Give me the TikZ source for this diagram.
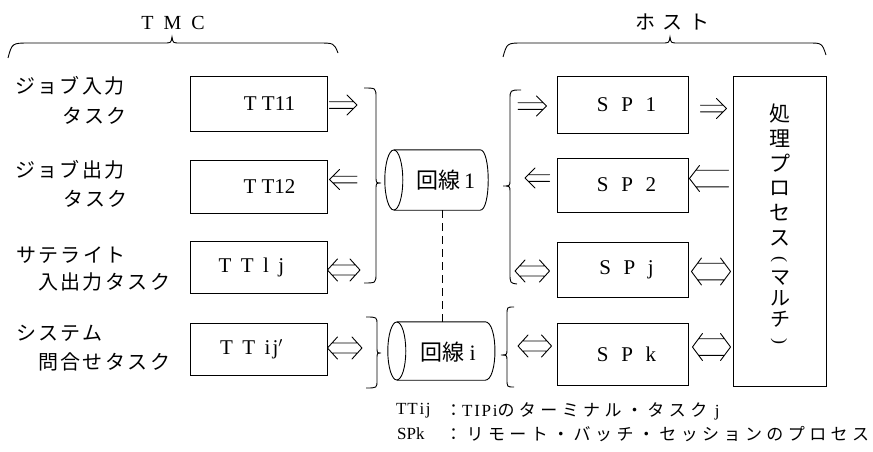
\documentclass[tikz,border=0pt]{standalone}
\usepackage{fontspec}
\setmainfont{Liberation Serif}
\newfontfamily\jp{Noto Sans CJK JP}
\newfontfamily\jpL[LetterSpace=12]{Noto Sans CJK JP}
\newfontfamily\jpH[LetterSpace=35]{Noto Sans CJK JP}
\newfontfamily\jpS[LetterSpace=26]{Noto Sans CJK JP}
\usetikzlibrary{arrows.meta,calc}
% horizontal double arrows: #1 left point, #2 right point, #3 half gap, #4 half head height, #5 head length
\newcommand{\arrR}[5]{\draw[aw] let \p1=#1, \p2=#2 in
  (\x1,\y1+#3pt) -- (\x2-#5*#3/#4*1pt,\y1+#3pt)
  (\x1,\y1-#3pt) -- (\x2-#5*#3/#4*1pt,\y1-#3pt)
  (\x2-#5pt,\y1+#4pt) -- (\x2,\y1) -- (\x2-#5pt,\y1-#4pt);}
\newcommand{\arrL}[5]{\draw[aw] let \p1=#1, \p2=#2 in
  (\x1+#5*#3/#4*1pt,\y1+#3pt) -- (\x2,\y1+#3pt)
  (\x1+#5*#3/#4*1pt,\y1-#3pt) -- (\x2,\y1-#3pt)
  (\x1+#5pt,\y1+#4pt) -- (\x1,\y1) -- (\x1+#5pt,\y1-#4pt);}
\newcommand{\arrB}[5]{\draw[aw] let \p1=#1, \p2=#2 in
  (\x1+#5*#3/#4*1pt,\y1+#3pt) -- (\x2-#5*#3/#4*1pt,\y1+#3pt)
  (\x1+#5*#3/#4*1pt,\y1-#3pt) -- (\x2-#5*#3/#4*1pt,\y1-#3pt)
  (\x1+#5pt,\y1+#4pt) -- (\x1,\y1) -- (\x1+#5pt,\y1-#4pt)
  (\x2-#5pt,\y1+#4pt) -- (\x2,\y1) -- (\x2-#5pt,\y1-#4pt);}
\begin{document}
\begin{tikzpicture}[x=1pt,y=-1pt,
  box/.style={draw, line width=0.9pt, inner sep=0pt, font=\fontsize{21}{21}\selectfont},
  lab/.style={anchor=west, inner sep=0pt, font=\fontsize{20}{22}\jpL},
  aw/.style={line width=0.9pt, line join=round, line cap=round},
  br/.style={line width=0.9pt},
  cyl/.style={inner sep=0pt},
  leg/.style={anchor=west, inner sep=0pt, font=\fontsize{17}{17}\selectfont},
]
\useasboundingbox (0,0) rectangle (873,452);

% group labels and braces
\node[inner sep=0pt, font=\fontsize{20}{20}\selectfont] (tmc) at (173,23) {T\hspace{.5em}M\hspace{.5em}C};
\node[inner sep=0pt, font=\fontsize{20}{20}\jpH] (host) at (672,22) {ホスト};
\draw[br] (8,58) .. controls (12,43) .. (30,43) -- (164,43) .. controls (171,43) .. (172,37) .. controls (173,43) .. (180,43) -- (318,43) .. controls (334,43) .. (338,53);
\draw[br] (503,57) .. controls (507,43) .. (523,43) -- (662,43) .. controls (669,43) .. (670,37) .. controls (671,43) .. (678,43) -- (808,43) .. controls (822,43) .. (826,55);

% left labels
\node[lab] (ja1) at (15,86) {ジョブ入力};
\node[lab] (ja2) at (62,116) {タスク};
\node[lab] (jb1) at (15,170) {ジョブ出力};
\node[lab] (jb2) at (63,199) {タスク};
\node[lab] (jc1) at (16,255) {サテライト};
\node[lab] (jc2) at (38,282) {入出力タスク};
\node[lab] (jd1) at (16,333) {システム};
\node[lab] (jd2) at (38,362) {問合せタスク};

% TT boxes
\node[box, minimum width=137pt, minimum height=55pt] (tt11) at (258.5,103.5) {\hspace*{22pt}T\hspace{.25em}T11};
\node[box, minimum width=137pt, minimum height=53pt] (tt12) at (258.5,186.5) {\hspace*{22pt}T\hspace{.25em}T12};
\node[box, minimum width=137pt, minimum height=52pt] (ttlj) at (258.5,267) {T\hspace{.45em}T\hspace{.45em}l\hspace{.45em}j\hspace*{14pt}};
\node[box, minimum width=137pt, minimum height=52pt] (ttij) at (258.5,349) {T\hspace{.45em}T\hspace{.45em}i\hspace{.1em}j$'$\hspace*{14pt}};

% SP boxes and process
\node[box, minimum width=131pt, minimum height=57pt] (sp1) at (622.5,104.5) {\hspace*{8pt}S\hspace{.6em}P\hspace{.6em}1};
\node[box, minimum width=131pt, minimum height=54pt] (sp2) at (622.5,185) {\hspace*{8pt}S\hspace{.6em}P\hspace{.6em}2};
\node[box, minimum width=131pt, minimum height=55pt] (spj) at (622.5,269.5) {\hspace*{8pt}S\hspace{.6em}P\hspace{.6em}j};
\node[box, minimum width=131pt, minimum height=62pt] (spk) at (622.5,354) {\hspace*{8pt}S\hspace{.6em}P\hspace{.6em}k};
\node[box, minimum width=93pt, minimum height=310pt] (proc) at (779.5,231) {};
\node[inner sep=0pt, align=center, font=\fontsize{21}{24.8}\jp] (proctext) at (780,175) {処\\理\\プ\\ロ\\セ\\ス};
\node[inner sep=0pt, rotate=-90, font=\fontsize{18}{18}\selectfont] (plp) at (779,259) {(};
\node[inner sep=0pt, align=center, font=\fontsize{20}{21}\jp] (proctext2) at (780,299) {マ\\ル\\チ};
\node[inner sep=0pt, rotate=-90, font=\fontsize{18}{18}\selectfont] (prp) at (779,341) {)};

% lines (cylinders)
\node[cyl, minimum width=86pt, minimum height=60pt] (c1) at (437,180) {};
\node[inner sep=0pt, font=\fontsize{22}{22}\selectfont] (c1t) at (446,180) {{\jp 回線}\hspace{.15em}1};
\draw[br] (c1.north west) -- (c1.north east) .. controls +(10.7,0) and +(10.7,0) .. (c1.south east) -- (c1.south west);
\draw[br] (c1.west) ellipse [x radius=9, y radius=30];
\node[cyl, minimum width=88pt, minimum height=58pt] (ci) at (441,351) {};
\node[inner sep=0pt, font=\fontsize{22}{22}\selectfont] (cit) at (448,352) {{\jp 回線}\hspace{.25em}i};
\draw[br] (ci.north west) -- (ci.north east) .. controls +(13,0) and +(13,0) .. (ci.south east) -- (ci.south west);
\draw[br] (ci.west) ellipse [x radius=9, y radius=29];
\draw[br, dash pattern=on 8pt off 5pt] ([xshift=5pt]c1.south) -- ([xshift=1pt]ci.north);

% braces around lines
\draw[br] (364,88) .. controls (376,88) .. (376,98) -- (376,176) .. controls (376,183) .. (381,183) .. controls (376,183) .. (376,190) -- (376,273) .. controls (376,283) .. (364,283);
\draw[br] (366,317) .. controls (377,317) .. (377,325) -- (377,347) .. controls (377,353) .. (381,353) .. controls (377,353) .. (377,359) -- (377,380) .. controls (377,388) .. (366,388);
\draw[br] (521,90) .. controls (510,90) .. (510,100) -- (510,180) .. controls (510,186) .. (503,186) .. controls (510,186) .. (510,192) -- (510,273) .. controls (510,283) .. (517,284);
\draw[br] (514,307) .. controls (507,307) .. (507,315) -- (507,349) .. controls (507,355) .. (501,355) .. controls (507,355) .. (507,361) -- (507,379) .. controls (507,387) .. (514,387);

% free ends of arrows
\coordinate (e1) at (357,105);
\coordinate (e2) at (357,179.5);
\coordinate (e3) at (360,270);
\coordinate (e4) at (362,348);
\coordinate (e5) at (518,106);
\coordinate (e6) at (525,178);
\coordinate (e9) at (515,271);
\coordinate (e11) at (518,346);

% arrows
\arrR{($(tt11.east)+(2,1.5)$)}{(e1)}{3.3}{10}{10}
\arrL{($(tt12.east)+(2,-7)$)}{(e2)}{3.3}{10}{10}
\arrB{($(ttlj.east)+(0,3)$)}{(e3)}{5}{11}{10}
\arrB{($(ttij.east)+(0,-1)$)}{(e4)}{5}{11}{10}
\arrR{(e5)}{($(sp1.west)+(-10,1.5)$)}{3.3}{10}{10}
\arrL{(e6)}{($(sp2.west)+(-7,-7)$)}{3.3}{10}{10}
\arrR{($(sp1.east)+(12,4)$)}{($(proc.west|-sp1)+(-6,4)$)}{3.3}{10}{10}
\arrL{($(sp2.east)+(1,-6.5)$)}{($(proc.west|-sp2)+(-4,-6.5)$)}{8.3}{13}{10}
\arrB{(e9)}{($(spj.west)+(-7,1.5)$)}{5}{11}{10}
\arrB{($(spj.east)+(3,2)$)}{($(proc.west|-spj)+(-2,2)$)}{8.3}{13.5}{10}
\arrB{(e11)}{($(spk.west)+(-5,-8)$)}{5}{11}{10}
\arrB{($(spk.east)+(4,-7)$)}{($(proc.west|-spk)+(-2,-7)$)}{8.3}{13.5}{10}

% legend
\node[leg] (lg1a) at (396,411) {T\hspace{.05em}T\hspace{.1em}i\hspace{.1em}j};
\node[leg] (lg1b) at (445,411) {{\jpS ：}T\hspace{.1em}I\hspace{.1em}P\hspace{.1em}i{\jpS のターミナル・タスク}\hspace{.45em}j};
\node[leg] (lg2a) at (397,434) {SPk};
\node[leg] (lg2b) at (445,434) {{\jpS ：リモート・バッチ・セッションのプロセス}};
\end{tikzpicture}
\end{document}
